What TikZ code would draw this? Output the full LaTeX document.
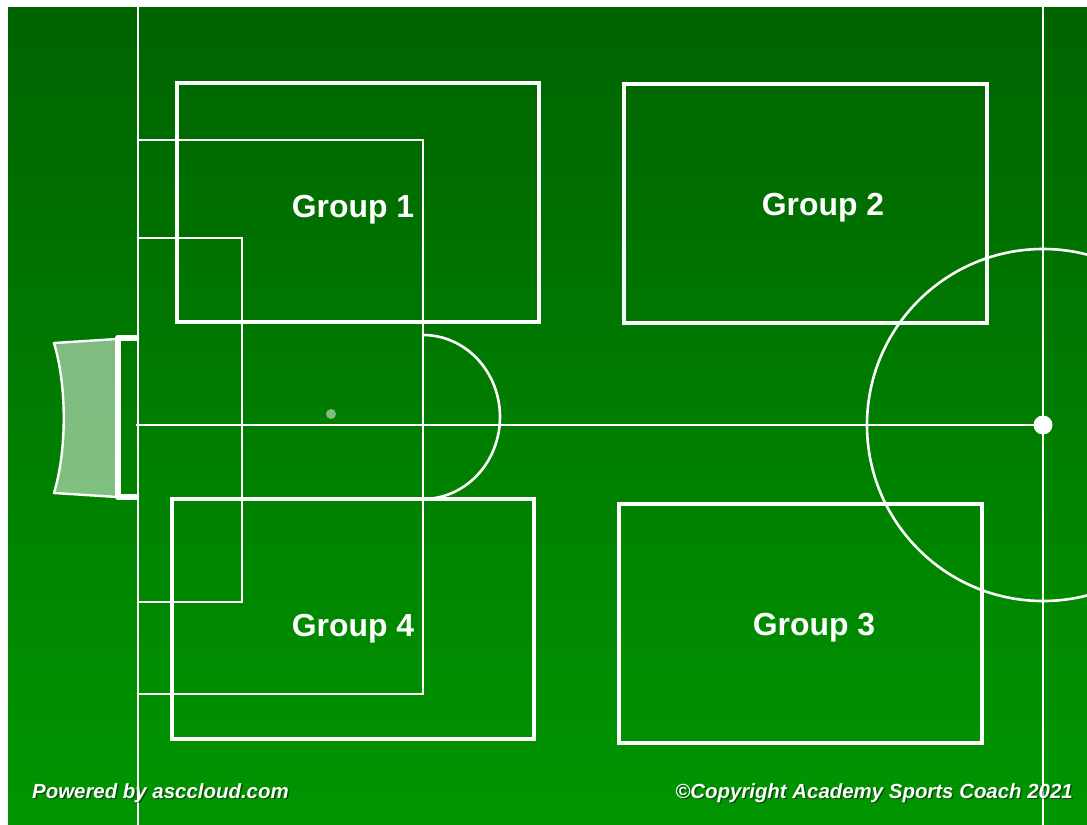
\documentclass[tikz,border=0pt]{standalone}
\usepackage{fontspec}
\setmainfont{Liberation Sans}
\definecolor{topg}{RGB}{0,99,0}
\definecolor{botg}{RGB}{0,150,0}
\tikzset{
  pitchline/.style={draw=white, line width=2.6bp},
  groupbox/.style={draw=white, line width=3.1bp},
  grouplabel/.style={text=white, font=\fontsize{32}{36}\selectfont\bfseries, inner sep=0pt},
  footlabel/.style={text=white, font=\fontsize{20.5}{23}\selectfont\bfseries\itshape, inner sep=0pt},
  shadowlabel/.style={text=black, opacity=0.45, font=\fontsize{20.5}{23}\selectfont\bfseries\itshape, inner sep=0pt},
}
\begin{document}
\begin{tikzpicture}[x=1bp, y=-1bp]
\useasboundingbox (0,0) rectangle (1087,825);
\fill[white] (-5,-5) rectangle (1092,830);
\shade[top color=topg, bottom color=botg] (8,7) rectangle (1092,830);
\begin{scope}
\clip (8,7) rectangle (1092,830);
% coordinates
\coordinate (gl-top) at (138,7);
\coordinate (gl-bot) at (138,830);
\coordinate (hl-top) at (1043,7);
\coordinate (hl-bot) at (1043,830);
\coordinate (mid-l) at (136,425);
\coordinate (cspot) at (1043,425);
% goal line and halfway line
\draw[pitchline] (gl-top) -- (gl-bot);
\draw[pitchline] (hl-top) -- (hl-bot);
\draw[pitchline] (mid-l) -- (cspot);
% penalty area
\draw[pitchline] (138,140) -- (423,140) -- (423,694) -- (138,694);
% six-yard box
\draw[pitchline] (138,238) -- (242,238) -- (242,602) -- (138,602);
% penalty arc
\begin{scope}
\clip (423,300) rectangle (600,540);
\draw[pitchline] (423,417) ellipse[x radius=77bp, y radius=82bp];
\end{scope}
% centre circle and spot
\draw[pitchline] (cspot) circle[radius=176bp];
\fill[white] (cspot) circle[radius=9.5bp];
% penalty spot
\fill[white, opacity=0.5] (331,414) circle[radius=5bp];
% goal net
\filldraw[fill=white, fill opacity=0.5, draw=white, line width=2.4bp, line join=round]
  (54,343) -- (117,339) -- (117,497) -- (54,493) .. controls (67,450) and (67,386) .. (54,343) -- cycle;
% goal posts
\draw[white, line width=6.5bp, line cap=round, line join=round]
  (136,338) -- (118,338) -- (118,497) -- (136,497);
% group boxes
\draw[groupbox] (177,83) rectangle (539,322);
\draw[groupbox] (624,84) rectangle (987,323);
\draw[groupbox] (172,499) rectangle (534,739);
\draw[groupbox] (619,504) rectangle (982,743);
\end{scope}
% group labels
\node[grouplabel] (g1) at (353,210) {Group 1};
\node[grouplabel] (g2) at (823,208) {Group 2};
\node[grouplabel] (g4) at (353,629) {Group 4};
\node[grouplabel] (g3) at (814,628) {Group 3};
% footer
\node[shadowlabel, anchor=west] (powsh) at (33.5,794.5) {Powered by asccloud.com};
\node[footlabel, anchor=west] (pow) at (32,793) {Powered by asccloud.com};
\node[shadowlabel, anchor=east] (copsh) at (1074.5,794.5) {©Copyright Academy Sports Coach 2021};
\node[footlabel, anchor=east] (cop) at (1073,793) {©Copyright Academy Sports Coach 2021};
\end{tikzpicture}
\end{document}
